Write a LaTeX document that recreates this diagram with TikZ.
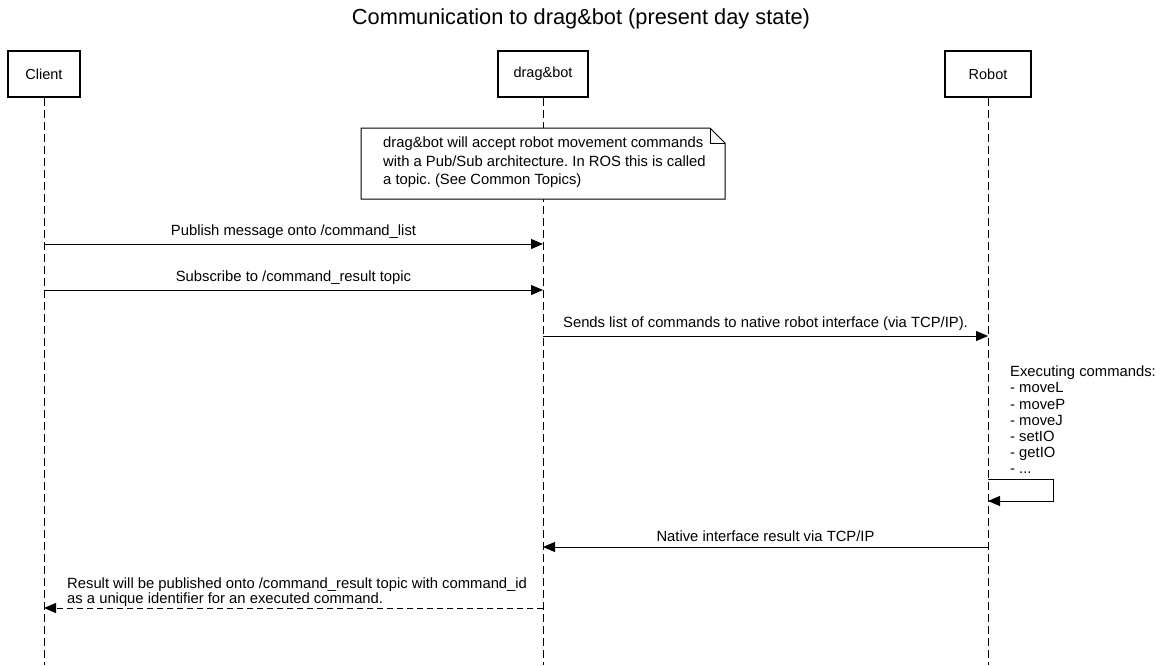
\documentclass[tikz,border=0pt]{standalone}
\usepackage{fontspec}
\setmainfont{Liberation Sans}
\usetikzlibrary{arrows.meta}
\frenchspacing
\begin{document}
\begin{tikzpicture}[x=1pt,y=-1pt,
  actor/.style={draw,line width=2pt,minimum width=72pt,minimum height=46pt,font=\fontsize{14.5}{17}\selectfont,inner sep=0pt},
  lifeline/.style={line width=1pt,dash pattern=on 8pt off 4pt},
  msg/.style={line width=1pt,-{Triangle[length=12pt,width=10pt]}},
  rmsg/.style={msg,dash pattern=on 6pt off 4pt},
  lbl/.style={font=\fontsize{14.8}{16}\selectfont,inner sep=0pt}]
\useasboundingbox (0,0) rectangle (1162,665);
\node[font=\fontsize{21.8}{26}\selectfont] (title) at (581,19) {Communication to drag\&bot (present day state)};
\node[actor] (client) at (44,74) {Client};
\node[actor,minimum width=90pt] (dnb) at (543,74) {drag\&bot};
\node[actor,minimum width=86pt] (robot) at (988,74) {Robot};
\coordinate (cEnd) at (44,665);
\coordinate (dEnd) at (543,665);
\coordinate (rEnd) at (988,665);
\draw[lifeline] (client.south) -- (cEnd);
\draw[lifeline] (dnb.south) -- (dEnd);
\draw[lifeline] (robot.south) -- (rEnd);
% note
\draw[line width=1pt,fill=white] (361,128) -- (710,128) -- (725,143) -- (725,199) -- (361,199) -- cycle;
\draw[line width=1pt] (710,128) -- (710,143) -- (725,143);
\node[lbl,align=left,anchor=north west,font=\fontsize{14.8}{18.5}\selectfont] (note) at (383,137) {drag\&bot will accept robot movement commands\\with a Pub/Sub architecture. In ROS this is called\\a topic. (See Common Topics)};
% messages
\coordinate (c1) at (44,244); \coordinate (d1) at (543,244);
\draw[msg] (c1) -- node[lbl,above=4.5pt] (m1) {Publish message onto /command\_list} (d1);
\coordinate (c2) at (44,290); \coordinate (d2) at (543,290);
\draw[msg] (c2) -- node[lbl,above=4.5pt] (m2) {Subscribe to /command\_result topic} (d2);
\coordinate (d3) at (543,336); \coordinate (r3) at (988,336);
\draw[msg] (d3) -- node[lbl,above=4.5pt] (m3) {Sends list of commands to native robot interface (via TCP/IP).} (r3);
\coordinate (r4a) at (988,479); \coordinate (r4b) at (1053,479); \coordinate (r4c) at (1053,501); \coordinate (r4d) at (988,501);
\draw[msg] (r4a) -- (r4b) -- (r4c) -- (r4d);
\node[lbl,align=left,anchor=south west,font=\fontsize{14.8}{16.2}\selectfont] (exec) at (1010,474) {Executing commands:\\- moveL\\- moveP\\- moveJ\\- setIO\\- getIO\\- ...};
\coordinate (r5) at (988,547); \coordinate (d5) at (543,547);
\draw[msg] (r5) -- node[lbl,above=4.5pt] (m5) {Native interface result via TCP/IP} (d5);
\coordinate (d6) at (543,608); \coordinate (c6) at (44,608);
\draw[rmsg] (d6) -- (c6);
\node[lbl,align=left,anchor=south west,font=\fontsize{14.8}{15.5}\selectfont] (m6) at (67,607) {Result will be published onto /command\_result topic with command\_id\\as a unique identifier for an executed command.};
\end{tikzpicture}
\end{document}
